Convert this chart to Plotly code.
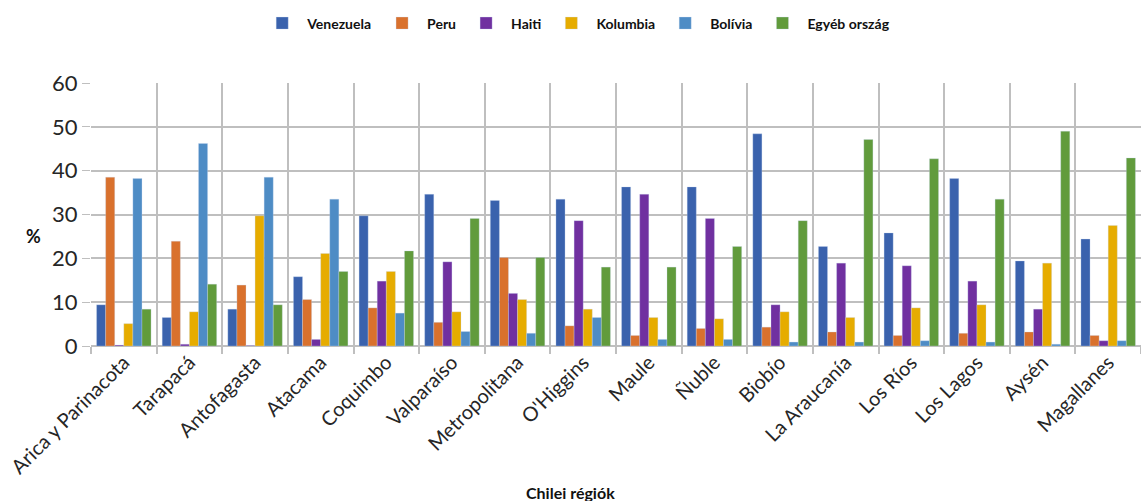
import plotly.graph_objects as go

regions = ["Arica y Parinacota", "Tarapacá", "Antofagasta", "Atacama", "Coquimbo",
           "Valparaíso", "Metropolitana", "O'Higgins", "Maule", "Ñuble", "Biobío",
           "La Araucanía", "Los Ríos", "Los Lagos", "Aysén", "Magallanes"]

venezuela = [9.4, 6.5, 8.4, 15.8, 29.7, 34.6, 33.2, 33.5, 36.3, 36.3, 48.4, 22.7, 25.8, 38.2, 19.4, 24.4]
peru      = [38.5, 23.9, 13.9, 10.6, 8.7, 5.4, 20.2, 4.6, 2.4, 4.0, 4.3, 3.2, 2.4, 2.9, 3.2, 2.4]
haiti     = [0.2, 0.4, 0.1, 1.5, 14.8, 19.2, 12.0, 28.6, 34.6, 29.1, 9.4, 18.9, 18.3, 14.8, 8.4, 1.2]
kolumbia  = [5.1, 7.8, 29.7, 21.1, 17.0, 7.8, 10.6, 8.4, 6.5, 6.2, 7.8, 6.5, 8.7, 9.4, 18.9, 27.5]
bolivia   = [38.2, 46.2, 38.5, 33.5, 7.5, 3.3, 2.9, 6.5, 1.5, 1.5, 0.9, 0.9, 1.2, 0.9, 0.4, 1.2]
egyeb     = [8.4, 14.1, 9.4, 17.0, 21.7, 29.1, 20.2, 18.0, 18.0, 22.7, 28.6, 47.1, 42.7, 33.5, 49.0, 42.9]

series_names = ["Venezuela", "Peru", "Haiti", "Kolumbia", "Bolívia", "Egyéb ország"]
series_values = [venezuela, peru, haiti, kolumbia, bolivia, egyeb]
colors = ["#3A62AD", "#D9712D", "#7030A0", "#E6AC00", "#4E8CC5", "#619B3C"]

y_ticks = [0, 10, 20, 30, 40, 50, 60]

FONT = "Lato, 'Open Sans', sans-serif"

fig = go.Figure()
for name, vals, col in zip(series_names, series_values, colors):
    fig.add_trace(go.Bar(
        x=regions, y=vals, name=name,
        marker=dict(color=col, line=dict(color="rgba(200,215,240,0.6)", width=0.5)),
    ))

fig.update_layout(
    width=1141, height=501,
    margin=dict(l=91, r=0, t=83, b=155),
    paper_bgcolor="white", plot_bgcolor="white",
    barmode="group", bargap=0.17, bargroupgap=0,
    font=dict(family=FONT, color="#404040"),
    legend=dict(
        orientation="h", x=0.505, xref="container", xanchor="center",
        y=0.985, yref="container", yanchor="top",
        font=dict(family=FONT, size=14, color="#111111", weight="bold"),
        itemwidth=40, tracegroupgap=0,
    ),
    xaxis=dict(
        type="category", tickson="boundaries", ticks="outside", ticklen=7,
        tickcolor="#BFBFBF", tickwidth=1.5,
        showgrid=True, gridcolor="#BFBFBF", gridwidth=1.5,
        tickangle=-45, tickfont=dict(family=FONT, size=20, color="#262626"),
        showline=False, zeroline=False,
    ),
    yaxis=dict(
        range=[0, 60], tickvals=y_ticks, showgrid=True, gridcolor="#BFBFBF", gridwidth=1.5,
        ticks="outside", ticklen=8, tickcolor="#BFBFBF",
        tickfont=dict(family=FONT, size=22, color="#262626"),
        zeroline=True, zerolinecolor="#BFBFBF", zerolinewidth=1.5,
        showline=False,
    ),
    annotations=[
        dict(text="%", x=(33 - 91) / 1050, y=(346 - 236) / 263, xref="paper", yref="paper",
             xanchor="center", yanchor="middle", showarrow=False,
             font=dict(family=FONT, size=18, color="#111111", weight="bold")),
        dict(text="Chilei régiók", x=(570 - 91) / 1050, y=(346 - 492) / 263, xref="paper", yref="paper",
             xanchor="center", yanchor="middle",
             showarrow=False, font=dict(family=FONT, size=16, color="#111111", weight="bold")),
    ],
)

fig.write_html("out.html")
